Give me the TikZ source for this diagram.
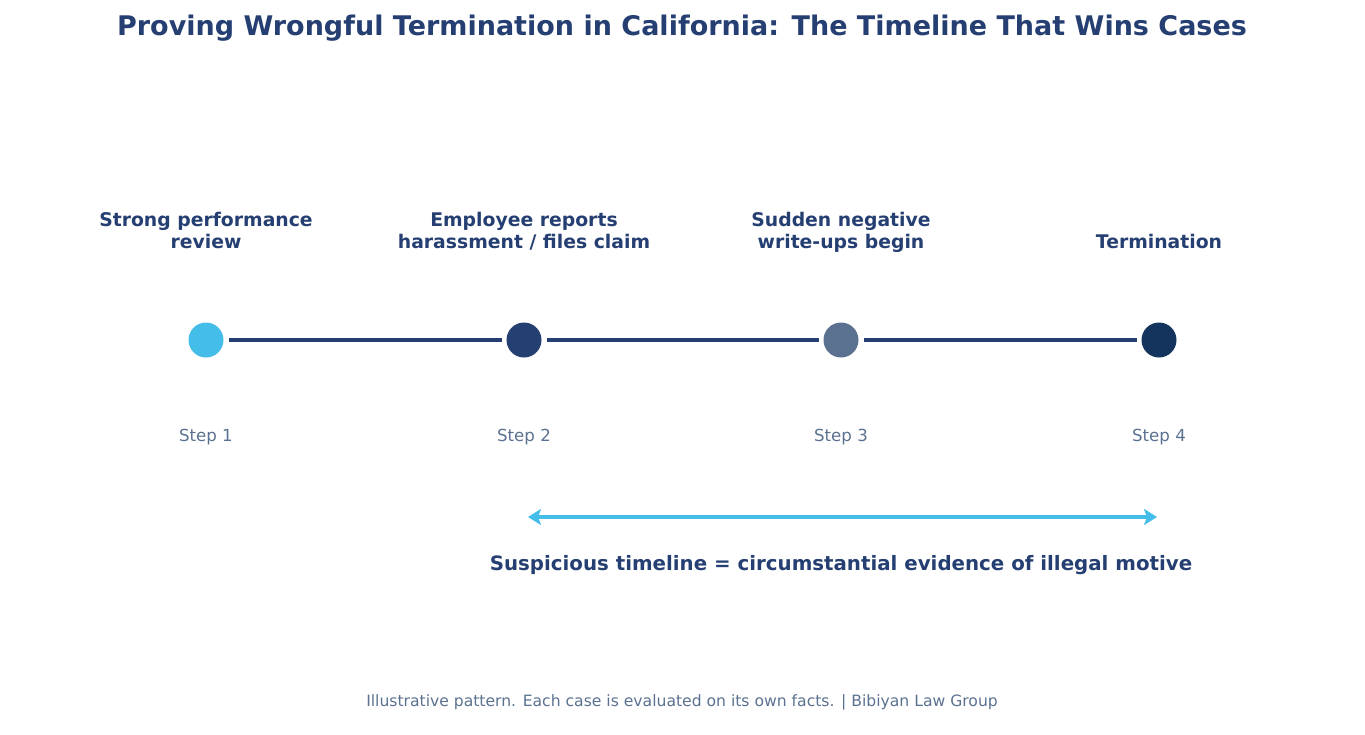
\documentclass[tikz,border=0pt]{standalone}
\usepackage{fontspec}
\setmainfont{DejaVu Sans}
\usetikzlibrary{arrows.meta,positioning}
\definecolor{navy}{HTML}{253F72}
\definecolor{sky}{HTML}{44BDE8}
\definecolor{slate}{HTML}{5B7190}
\definecolor{deep}{HTML}{14345E}
\tikzset{
  dot/.style={circle,minimum size=35pt,inner sep=0pt,outer sep=5pt},
  event/.style={font=\fontsize{18.8}{22}\selectfont\bfseries,text=navy,align=center,anchor=south,text depth=5pt},
  steplbl/.style={font=\fontsize{16.6}{19}\selectfont,text=slate},
  window/.style={sky,line width=4.5pt,>={Stealth[length=13pt,width=16pt,inset=3pt]},<->}
}
\begin{document}
\begin{tikzpicture}[x=1pt,y=-1pt]
      \useasboundingbox (0,0) rectangle (1365,734);
      \node[font=\fontsize{27}{30}\selectfont\bfseries,text=navy] (title) at (682,28)
        {Proving Wrongful Termination in California: The Timeline That Wins Cases};
      % the four steps
      \node[dot,fill=sky]   (s1) at (206,340) {};
      \node[dot,fill=navy]  (s2) at (524,340) {};
      \node[dot,fill=slate] (s3) at (841,340) {};
      \node[dot,fill=deep]  (s4) at (1159,340) {};
      \draw[navy,line width=4.5pt] (s1) -- (s2) (s2) -- (s3) (s3) -- (s4);
      \node[event] (e1) at (206,257) {Strong performance\\review};
      \node[event] (e2) at (524,257) {Employee reports\\harassment / files claim};
      \node[event] (e3) at (841,257) {Sudden negative\\write-ups begin};
      \node[event] (e4) at (1159,257) {Termination};
      \node[steplbl] (l1) at (206,437) {Step 1};
      \node[steplbl] (l2) at (524,437) {Step 2};
      \node[steplbl] (l3) at (841,437) {Step 3};
      \node[steplbl] (l4) at (1159,437) {Step 4};
      % suspicious window
      \coordinate (wa) at (528,517);
      \coordinate (wb) at (1157,517);
      \draw[window] (wa) -- (wb);
      \node[font=\fontsize{19.8}{22}\selectfont\bfseries,text=navy] (note) at (841,565)
        {Suspicious timeline = circumstantial evidence of illegal motive};
      \node[font=\fontsize{15.6}{18}\selectfont,text=slate] (foot) at (682,702)
        {Illustrative pattern. Each case is evaluated on its own facts. | Bibiyan Law Group};
\end{tikzpicture}
\end{document}
